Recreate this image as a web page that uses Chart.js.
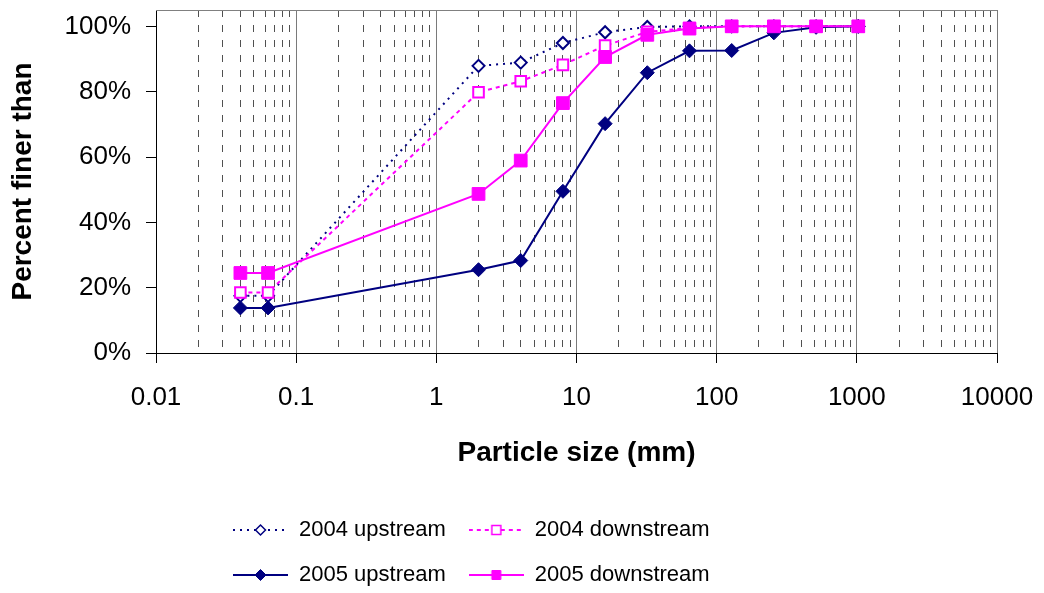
<!DOCTYPE html>
<html>
<head>
<meta charset="utf-8">
<script src="https://cdn.jsdelivr.net/npm/chart.js@4/dist/chart.umd.min.js"></script>
<style>
  body { margin: 0; background: #fff; }
</style>
</head>
<body>
<canvas id="psd" width="1044" height="593"></canvas>
<script>
// sieve sizes (mm) and percent finer for each survey
const sizes = [0.04, 0.063, 2, 4, 8, 16, 32, 64, 128, 256, 512, 1024];
const up2004 = [17.5, 17.5, 87.9, 88.9, 94.9, 98.2, 99.8, 100, 100, 100, 100, 100];
const down2004 = [18.5, 18.5, 79.8, 83.2, 88.2, 94.1, 98.3, 99.5, 100, 100, 100, 100];
const up2005 = [13.8, 13.8, 25.5, 28.3, 49.5, 70.2, 85.8, 92.5, 92.6, 98, 99.7, 100];
const down2005 = [24.5, 24.5, 48.7, 58.9, 76.5, 90.6, 97.4, 99.3, 100, 100, 100, 100];

const seriesNames = ['2004 upstream', '2004 downstream', '2005 upstream', '2005 downstream'];

const xMajor = [0.01, 0.1, 1, 10, 100, 1000, 10000];
const xTickLabels = ['0.01', '0.1', '1', '10', '100', '1000', '10000'];
const yTicks = [0, 20, 40, 60, 80, 100];

const NAVY = '#000080';
const PINK = '#FF00FF';
const FONT = 'Liberation Sans, Arial, sans-serif';

function isDecade(v) {
  const l = Math.log10(v);
  return Math.abs(l - Math.round(l)) < 1e-9;
}

function pts(vals) {
  return sizes.map((s, i) => ({ x: s, y: vals[i] }));
}

// little line+marker picture used as the legend symbol
function sample(color, dash, shape, filled, r) {
  const c = document.createElement('canvas');
  c.width = 55; c.height = 16;
  const g = c.getContext('2d');
  g.strokeStyle = color;
  g.lineWidth = 2;
  g.setLineDash(dash);
  g.beginPath(); g.moveTo(0, 8); g.lineTo(55, 8); g.stroke();
  g.setLineDash([]);
  g.fillStyle = filled ? color : '#fff';
  g.beginPath();
  if (shape === 'diamond') {
    g.moveTo(27.5 - r, 8); g.lineTo(27.5, 8 - r); g.lineTo(27.5 + r, 8); g.lineTo(27.5, 8 + r); g.closePath();
  } else {
    g.rect(27.5 - r, 8 - r, 2 * r, 2 * r);
  }
  g.fill();
  g.lineWidth = filled ? 1 : 1.5;
  g.stroke();
  return c;
}

const legendIcons = [
  sample(NAVY, [2, 5], 'diamond', false, 5),
  sample(PINK, [4, 4], 'rect', false, 4.5),
  sample(NAVY, [], 'diamond', true, 5.5),
  sample(PINK, [], 'rect', true, 4.5)
];

const frameAndLegend = {
  id: 'frameAndLegend',
  beforeLayout(chart) {
    // two items per legend row, like the original
    const lg = chart.legend;
    if (lg && !lg._wrapped) {
      const update = lg.update.bind(lg);
      lg.update = (w, h, m) => update(Math.min(w, 600), h, m);
      lg._wrapped = true;
    }
  },
  afterLayout(chart) {
    const lg = chart.legend;
    lg.left = 210;
    lg.right = 760;
    lg.top += 3;
  },
  beforeDatasetsDraw(chart) {
    const a = chart.chartArea;
    const ctx = chart.ctx;
    ctx.save();
    ctx.strokeStyle = '#808080';
    ctx.lineWidth = 1;
    ctx.beginPath();
    ctx.moveTo(a.left, a.top + 0.5);
    ctx.lineTo(a.right, a.top + 0.5);
    ctx.stroke();
    ctx.restore();
  }
};

new Chart(document.getElementById('psd').getContext('2d'), {
  type: 'line',
  data: {
    datasets: [
      {
        label: seriesNames[0], data: pts(up2004), order: 4,
        borderColor: NAVY, borderWidth: 2, borderDash: [2, 5],
        pointStyle: 'rectRot', pointRadius: 6, pointBorderWidth: 2,
        pointBackgroundColor: '#fff', pointBorderColor: NAVY
      },
      {
        label: seriesNames[1], data: pts(down2004), order: 3,
        borderColor: PINK, borderWidth: 2, borderDash: [4, 4],
        pointStyle: 'rect', pointRadius: 7.5, pointBorderWidth: 2,
        pointBackgroundColor: '#fff', pointBorderColor: PINK
      },
      {
        label: seriesNames[2], data: pts(up2005), order: 2,
        borderColor: NAVY, borderWidth: 2,
        pointStyle: 'rectRot', pointRadius: 7, pointBorderWidth: 1,
        pointBackgroundColor: NAVY, pointBorderColor: NAVY
      },
      {
        label: seriesNames[3], data: pts(down2005), order: 1,
        borderColor: PINK, borderWidth: 2,
        pointStyle: 'rect', pointRadius: 9, pointBorderWidth: 1,
        pointBackgroundColor: PINK, pointBorderColor: PINK
      }
    ]
  },
  options: {
    responsive: false,
    animation: false,
    events: [],
    layout: { padding: { left: 0, right: 47, top: 8, bottom: 0 } },
    elements: { line: { tension: 0, fill: false } },
    scales: {
      x: {
        type: 'logarithmic',
        min: 0.01,
        max: 10000,
        afterBuildTicks: (scale) => {
          const t = [];
          for (let d = 0; d < xMajor.length; d++) {
            const base = xMajor[d];
            t.push({ value: base });
            if (d < xMajor.length - 1) {
              for (let k = 2; k <= 9; k++) t.push({ value: base * k });
            }
          }
          scale.ticks = t;
        },
        afterFit: (scale) => {
          scale.height = 140;
          scale.paddingLeft = 0;
          scale.paddingRight = 0;
        },
        ticks: {
          autoSkip: false,
          maxRotation: 0,
          padding: 19,
          color: '#000',
          font: { family: FONT, size: 26 },
          callback: (v) => {
            const i = xMajor.findIndex(m => Math.abs(m - v) / m < 1e-9);
            return i >= 0 ? xTickLabels[i] : '';
          }
        },
        grid: {
          color: (ctx) => (ctx.tick && isDecade(ctx.tick.value)) ? '#7a7a7a' : '#505050',
          lineWidth: 1,
          tickLength: 10,
          tickColor: (ctx) => (ctx.tick && isDecade(ctx.tick.value)) ? '#000' : 'rgba(0,0,0,0)'
        },
        border: {
          color: '#000',
          width: 1,
          dash: (ctx) => (ctx.tick && !isDecade(ctx.tick.value)) ? [7, 8] : []
        },
        title: {
          display: true,
          text: 'Particle size (mm)',
          color: '#000',
          font: { family: FONT, size: 28, weight: 'bold', lineHeight: 1.2 },
          padding: { top: 0, bottom: 23 }
        }
      },
      y: {
        min: 0,
        max: 105,
        afterBuildTicks: (scale) => {
          scale.ticks = yTicks.map(v => ({ value: v }));
        },
        afterFit: (scale) => {
          scale.width = 156;
          scale.paddingTop = 0;
          scale.paddingBottom = 0;
        },
        ticks: {
          autoSkip: false,
          padding: 15,
          color: '#000',
          font: { family: FONT, size: 26 },
          callback: (v) => v + '%'
        },
        grid: {
          drawOnChartArea: false,
          tickLength: 10,
          tickColor: '#000'
        },
        border: { color: '#000', width: 1 },
        title: {
          display: true,
          text: 'Percent finer than',
          color: '#000',
          font: { family: FONT, size: 28, weight: 'bold', lineHeight: 1.2 },
          padding: { top: 6, bottom: 0 }
        }
      }
    },
    plugins: {
      tooltip: { enabled: false },
      legend: {
        position: 'bottom',
        align: 'start',
        labels: {
          usePointStyle: true,
          pointStyleWidth: 55,
          padding: 23,
          color: '#000',
          font: { family: FONT, size: 22 },
          generateLabels: (chart) => seriesNames.map((name, i) => ({
            text: name,
            datasetIndex: i,
            pointStyle: legendIcons[i],
            fillStyle: 'rgba(0,0,0,0)',
            strokeStyle: 'rgba(0,0,0,0)',
            lineWidth: 0,
            hidden: false,
            fontColor: '#000'
          }))
        }
      }
    }
  },
  plugins: [frameAndLegend]
});
</script>
</body>
</html>
